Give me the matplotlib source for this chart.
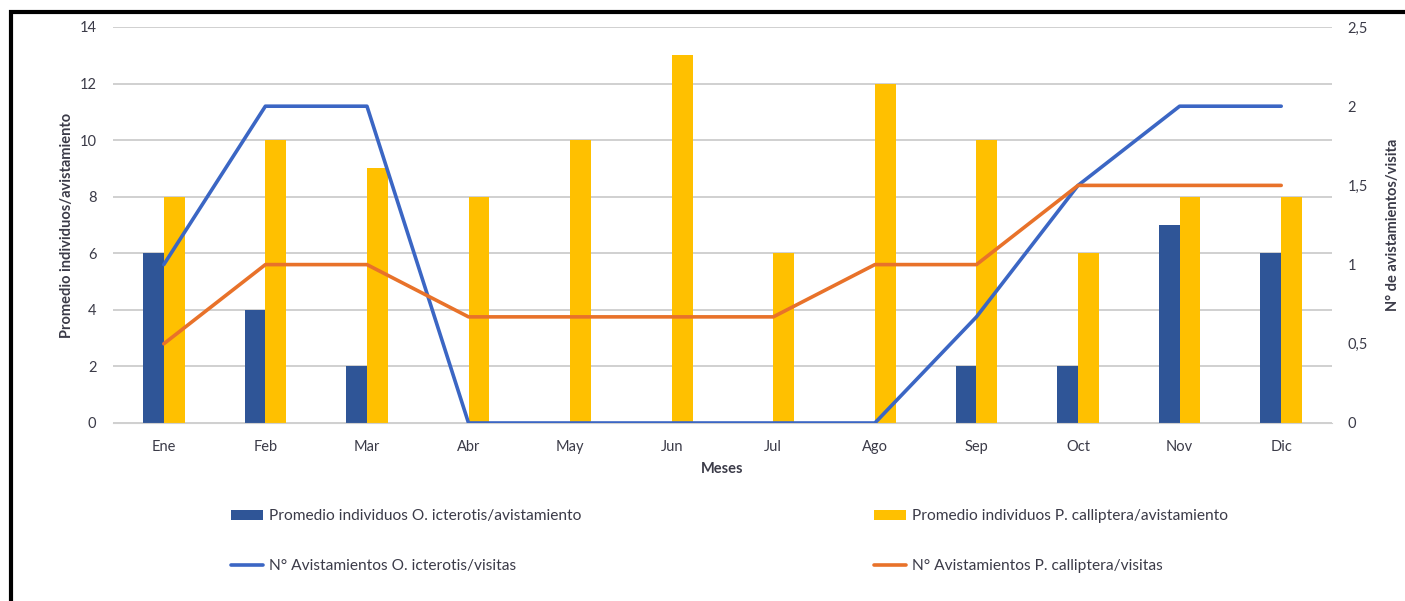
import numpy as np
import matplotlib.pyplot as plt
from matplotlib.patches import Rectangle

plt.rcParams['font.family'] = ['Lato', 'DejaVu Sans']

meses = ['Ene', 'Feb', 'Mar', 'Abr', 'May', 'Jun', 'Jul', 'Ago', 'Sep', 'Oct', 'Nov', 'Dic']
prom_icterotis = [6, 4, 2, 0, 0, 0, 0, 0, 2, 2, 7, 6]
prom_calliptera = [8, 10, 9, 8, 10, 13, 6, 12, 10, 6, 8, 8]
avist_icterotis = [1, 2, 2, 0, 0, 0, 0, 0, 0.67, 1.5, 2, 2]
avist_calliptera = [0.5, 1, 1, 0.67, 0.67, 0.67, 0.67, 1, 1, 1.5, 1.5, 1.5]

txt = '#3b3b48'
fig = plt.figure(figsize=(14.05, 6.01), dpi=100)
ax = fig.add_axes([113/1405, 1 - 423/601, (1332 - 113)/1405, (423 - 27)/601])
ax2 = ax.twinx()

x = np.arange(len(meses))
w = 0.205
b1 = ax.bar(x - w/2, prom_icterotis, w, color='#2F5597',
            label='Promedio individuos O. icterotis/avistamiento', zorder=2)
b2 = ax.bar(x + w/2, prom_calliptera, w, color='#FFC000',
            label='Promedio individuos P. calliptera/avistamiento', zorder=2)
l1, = ax2.plot(x, avist_icterotis, color='#3B66C4', lw=2.6,
               label='N° Avistamientos O. icterotis/visitas', solid_capstyle='round')
l2, = ax2.plot(x, avist_calliptera, color='#E8722A', lw=2.6,
               label='N° Avistamientos P. calliptera/visitas', solid_capstyle='round')

ax.set_xlim(-0.5, 11.5)
ax.set_ylim(0, 14)
ax.set_yticks(range(0, 15, 2))
ax2.set_ylim(0, 2.5)
ax2.set_yticks([0, 0.5, 1, 1.5, 2, 2.5])
ax2.set_yticklabels(['0', '0,5', '1', '1,5', '2', '2,5'])
ax.set_xticks(x)
ax.set_xticklabels(meses)
ax.yaxis.grid(True, color='#c8c8c8', lw=1.2, zorder=0)
ax.set_axisbelow(True)
for a in (ax, ax2):
    for s in a.spines.values():
        s.set_visible(False)
    a.tick_params(length=0, labelsize=10.5, colors=txt)
ax.spines['bottom'].set_visible(True)
ax.spines['bottom'].set_color('#d0d0d0')
ax.tick_params(axis='y', pad=12)
ax.tick_params(axis='x', pad=12)
ax2.tick_params(axis='y', pad=11)

ax.set_xlabel('Meses', fontsize=10.5, fontweight='bold', color=txt, labelpad=6)
ax.set_ylabel('Promedio individuos/avistamiento', fontsize=10.5, fontweight='bold',
              color=txt, labelpad=4)
ax2.set_ylabel('N° de avistamientos/visita', fontsize=10.5, fontweight='bold',
               color=txt, rotation=90, labelpad=13)

handles = [b1, l1, b2, l2]
leg = fig.legend(handles, [h.get_label() for h in handles],
                 ncol=2, loc='center', bbox_to_anchor=(0.519, 1 - 541/601),
                 frameon=False, fontsize=11.2, columnspacing=18.8, labelspacing=2.3,
                 handlelength=2.1, handleheight=0.6, handletextpad=0.35)
for t in leg.get_texts():
    t.set_color(txt)

fig.patches.append(Rectangle((11/1405, -0.05), 1.1, 1 - 12/601 + 0.05,
                             transform=fig.transFigure, fill=False,
                             edgecolor='black', lw=3, clip_on=False))

fig.savefig('out.png', dpi=100)
